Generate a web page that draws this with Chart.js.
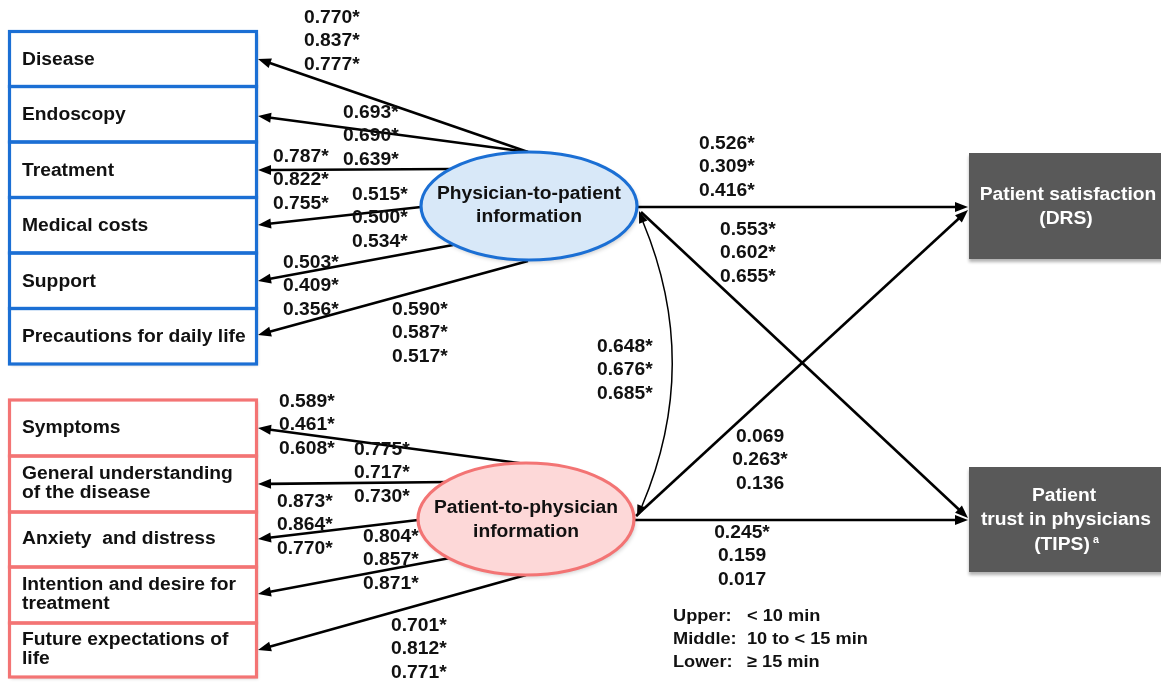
<!DOCTYPE html>
<html>
<head>
<meta charset="utf-8">
<script src="https://cdn.jsdelivr.net/npm/chart.js@4/dist/chart.umd.min.js"></script>
<style>
html,body{margin:0;padding:0;background:#fff;}
#wrap{width:1161px;height:683px;position:relative;}
</style>
</head>
<body>
<div id="wrap"><canvas id="c"></canvas></div>
<script>
// ---------- DATA ----------
const physIndicators = ["Disease", "Endoscopy", "Treatment", "Medical costs", "Support", "Precautions for daily life"];
const patIndicators = [["Symptoms"], ["General understanding", "of the disease"], ["Anxiety  and distress"], ["Intention and desire for", "treatment"], ["Future expectations of", "life"]];
const latentNames = [["Physician-to-patient", "information"], ["Patient-to-physician", "information"]];
const outcomeNames = [["Patient satisfaction", "(DRS)"], ["Patient", "trust in physicians", "(TIPS)"]];
// loadings: [upper, middle, lower]
const physLoadings = [
  ["0.770*", "0.837*", "0.777*"],
  ["0.693*", "0.690*", "0.639*"],
  ["0.787*", "0.822*", "0.755*"],
  ["0.515*", "0.500*", "0.534*"],
  ["0.503*", "0.409*", "0.356*"],
  ["0.590*", "0.587*", "0.517*"]
];
const patLoadings = [
  ["0.589*", "0.461*", "0.608*"],
  ["0.775*", "0.717*", "0.730*"],
  ["0.873*", "0.864*", "0.770*"],
  ["0.804*", "0.857*", "0.871*"],
  ["0.701*", "0.812*", "0.771*"]
];
const physToDRS = ["0.526*", "0.309*", "0.416*"];
const physToTIPS = ["0.553*", "0.602*", "0.655*"];
const latentCorr = ["0.648*", "0.676*", "0.685*"];
const patToDRS = ["0.069", "0.263*", "0.136"];
const patToTIPS = ["0.245*", "0.159", "0.017"];
const groupLabels = ["Upper:", "Middle:", "Lower:"];
const groupRanges = ["< 10 min", "10 to < 15 min", "\u2265 15 min"];

// ---------- LAYOUT (positions in diagram units) ----------
const L = {
  boxX: [9.5, 256.5],
  physRows: [31.5, 86.5, 142, 197.5, 253, 308.5, 364],
  patRows: [400, 456, 512, 567, 623, 677],
  physEll: {cx: 529, cy: 206, rx: 108, ry: 54},
  patEll: {cx: 526, cy: 519, rx: 108, ry: 56},
  drsBox: [969, 153, 1170, 259],
  tipsBox: [969, 467, 1170, 572],
  physArrows: [[528,152,258,59],[528,152,258,116],[453,169,258,170],[421,207,258,225],[453,245,258,281],[528,261,258,335]],
  patArrows: [[526,464,258,428],[450,482,258,484],[418,520,258,539],[450,558,258,594],[526,575,258,650]],
  physLabelPos: [[304,18],[343,113],[273,157],[352,195],[283,263],[392,310]],
  patLabelPos: [[279,402],[354,450],[277,502],[363,537],[391,626]],
  lineGap: 23.4
};

const SX = 1.07;
const FS = 18;
const FONT = "'Liberation Sans', Arial, sans-serif";

const diagramPlugin = {
  id: 'diagram',
  afterDraw(chart) {
    const ctx = chart.ctx;
    const xs = chart.scales.x, ys = chart.scales.y;
    const X = v => xs.getPixelForValue(v);
    const Y = v => ys.getPixelForValue(v);

    function text(str, x, y, align, size, color) {
      ctx.save();
      ctx.font = "bold " + (size || FS) + "px " + FONT;
      ctx.fillStyle = color || "#111";
      ctx.textBaseline = "middle";
      ctx.translate(X(x), Y(y));
      ctx.scale(SX, 1);
      ctx.textAlign = align || "left";
      ctx.fillText(str, 0, 0);
      ctx.restore();
    }
    function stack(vals, x, y, align) {
      vals.forEach((v, i) => text(v, x, y + i * L.lineGap, align, FS));
    }
    function arrowHead(x1, y1, x2, y2, len, wid) {
      const a = Math.atan2(Y(y2) - Y(y1), X(x2) - X(x1));
      const px = X(x2), py = Y(y2);
      ctx.beginPath();
      ctx.moveTo(px, py);
      ctx.lineTo(px - len * Math.cos(a) + wid / 2 * Math.sin(a), py - len * Math.sin(a) - wid / 2 * Math.cos(a));
      ctx.lineTo(px - len * Math.cos(a) - wid / 2 * Math.sin(a), py - len * Math.sin(a) + wid / 2 * Math.cos(a));
      ctx.closePath();
      ctx.fill();
    }
    function arrow(a, lw) {
      const [x1, y1, x2, y2] = a;
      const len = 13, wid = 10;
      const ang = Math.atan2(Y(y2) - Y(y1), X(x2) - X(x1));
      ctx.save();
      ctx.strokeStyle = "#000"; ctx.fillStyle = "#000";
      ctx.lineWidth = lw || 2.6;
      ctx.beginPath();
      ctx.moveTo(X(x1), Y(y1));
      ctx.lineTo(X(x2) - (len - 2) * Math.cos(ang), Y(y2) - (len - 2) * Math.sin(ang));
      ctx.stroke();
      arrowHead(x1, y1, x2, y2, len, wid);
      ctx.restore();
    }
    function boxes(rows, color) {
      ctx.save();
      ctx.shadowColor = "rgba(0,0,0,0.18)";
      ctx.shadowBlur = 3; ctx.shadowOffsetX = 1.5; ctx.shadowOffsetY = 2;
      ctx.fillStyle = "#fff";
      ctx.fillRect(X(L.boxX[0]), Y(rows[0]), X(L.boxX[1]) - X(L.boxX[0]), Y(rows[rows.length - 1]) - Y(rows[0]));
      ctx.restore();
      ctx.save();
      ctx.strokeStyle = color; ctx.lineWidth = 3.2;
      for (let i = 0; i < rows.length - 1; i++) {
        ctx.strokeRect(X(L.boxX[0]), Y(rows[i]), X(L.boxX[1]) - X(L.boxX[0]), Y(rows[i + 1]) - Y(rows[i]));
      }
      ctx.restore();
    }
    function ellipse(e, fill, stroke) {
      ctx.save();
      ctx.shadowColor = "rgba(0,0,0,0.2)";
      ctx.shadowBlur = 4; ctx.shadowOffsetX = 1.5; ctx.shadowOffsetY = 2.5;
      ctx.beginPath();
      ctx.ellipse(X(e.cx), Y(e.cy), e.rx, e.ry, 0, 0, Math.PI * 2);
      ctx.fillStyle = fill; ctx.fill();
      ctx.shadowColor = "transparent";
      ctx.lineWidth = 3.2; ctx.strokeStyle = stroke; ctx.stroke();
      ctx.restore();
    }
    function darkBox(b) {
      ctx.save();
      ctx.shadowColor = "rgba(0,0,0,0.3)";
      ctx.shadowBlur = 3; ctx.shadowOffsetX = 0; ctx.shadowOffsetY = 3;
      ctx.fillStyle = "#595959";
      ctx.fillRect(X(b[0]), Y(b[1]), X(b[2]) - X(b[0]), Y(b[3]) - Y(b[1]));
      ctx.restore();
    }

    // indicator boxes
    boxes(L.physRows, "#1b6fd4");
    boxes(L.patRows, "#f37474");
    physIndicators.forEach((n, i) => text(n, 22, (L.physRows[i] + L.physRows[i + 1]) / 2 + 1, "left", FS));
    patIndicators.forEach((lines, i) => {
      const mid = (L.patRows[i] + L.patRows[i + 1]) / 2;
      if (lines.length === 1) text(lines[0], 22, mid, "left", FS);
      else { text(lines[0], 22, mid - 10, "left", FS); text(lines[1], 22, mid + 9, "left", FS); }
    });

    // loading arrows
    L.physArrows.forEach(a => arrow(a));
    L.patArrows.forEach(a => arrow(a));

    // structural paths
    arrow([637, 207, 968, 207]);
    arrow([634, 520, 968, 520]);
    arrow([641, 212, 968, 518]);
    arrow([636, 516, 968, 210]);

    // correlation curve (double headed)
    ctx.save();
    ctx.strokeStyle = "#000"; ctx.fillStyle = "#000"; ctx.lineWidth = 1.5;
    ctx.beginPath();
    ctx.moveTo(X(643), Y(222));
    ctx.quadraticCurveTo(X(702), Y(364), X(642), Y(506));
    ctx.stroke();
    arrowHead(650, 240, 639, 211, 12, 9);
    arrowHead(648, 490, 637, 517, 12, 9);
    ctx.restore();

    // latent ellipses
    ellipse(L.physEll, "#d8e8f8", "#1b6fd4");
    ellipse(L.patEll, "#fdd8d8", "#f37474");
    text(latentNames[0][0], L.physEll.cx, 194, "center", FS);
    text(latentNames[0][1], L.physEll.cx, 217, "center", FS);
    text(latentNames[1][0], L.patEll.cx, 508, "center", FS);
    text(latentNames[1][1], L.patEll.cx, 532, "center", FS);

    // outcome boxes
    darkBox(L.drsBox);
    darkBox(L.tipsBox);
    text(outcomeNames[0][0], 1068, 195, "center", FS, "#fff");
    text(outcomeNames[0][1], 1066, 219, "center", FS, "#fff");
    text(outcomeNames[1][0], 1064, 496, "center", FS, "#fff");
    text(outcomeNames[1][1], 1066, 520, "center", FS, "#fff");
    text(outcomeNames[1][2], 1062, 545, "center", FS, "#fff");
    text("a", 1093, 540, "left", 10, "#fff");

    // loading values
    physLoadings.forEach((v, i) => stack(v, L.physLabelPos[i][0], L.physLabelPos[i][1], "left"));
    patLoadings.forEach((v, i) => stack(v, L.patLabelPos[i][0], L.patLabelPos[i][1], "left"));

    // path values
    stack(physToDRS, 699, 144, "left");
    stack(physToTIPS, 720, 230, "left");
    stack(latentCorr, 597, 347, "left");
    stack(patToDRS, 760, 437, "center");
    stack(patToTIPS, 742, 533, "center");

    // group legend
    groupLabels.forEach((g, i) => {
      text(g, 673, 616 + i * 23.3, "left", 17);
      text(groupRanges[i], 747, 616 + i * 23.3, "left", 17);
    });
  }
};

new Chart(document.getElementById('c'), {
  type: 'scatter',
  data: { datasets: [{ data: [], pointRadius: 0 }] },
  options: {
    responsive: true,
    maintainAspectRatio: false,
    animation: false,
    layout: { padding: 0 },
    plugins: { legend: { display: false }, tooltip: { enabled: false } },
    scales: {
      x: { type: 'linear', min: 0, max: 1161, display: false },
      y: { type: 'linear', min: 0, max: 683, reverse: true, display: false }
    }
  },
  plugins: [diagramPlugin]
});
</script>
</body>
</html>
